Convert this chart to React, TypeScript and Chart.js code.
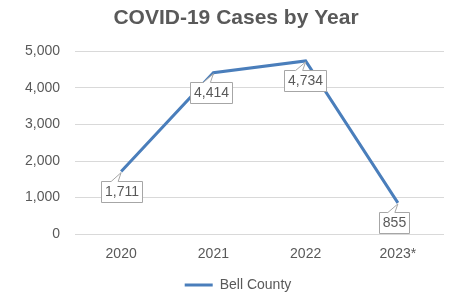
import React, { useEffect, useRef } from "react";
import { Chart, registerables } from "chart.js";

Chart.register(...registerables);

const categories = ["2020", "2021", "2022", "2023*"];
const seriesName = "Bell County";
const values = [1711, 4414, 4734, 855];
const titleText = "COVID-19 Cases by Year";

const FONT = "'Liberation Sans', 'DejaVu Sans', sans-serif";
const GRAY = "#595959";
const BLUE = "#4a7ebb";

const calloutPlugin = {
  id: "callouts",
  afterDatasetsDraw(chart: any) {
    const ctx = chart.ctx;
    const meta = chart.getDatasetMeta(0);
    const ds = chart.data.datasets[0];
    const dxs = [0, -2, -1, -4];
    ctx.save();
    ctx.font = `14px ${FONT}`;
    meta.data.forEach((pt: any, i: number) => {
      const v = ds.data[i] as number;
      const txt = v.toLocaleString("en-US");
      const tw = ctx.measureText(txt).width;
      const w = Math.round(tw + 7);
      const h = 21;
      const cx = pt.x + dxs[i];
      const top = Math.round(pt.y + 9);
      const left = Math.round(cx - w / 2);
      ctx.fillStyle = "#ffffff";
      ctx.strokeStyle = "#a6a6a6";
      ctx.lineWidth = 1;
      const b1 = Math.max(left + 2, pt.x - 10);
      const b2 = Math.min(left + w - 2, pt.x - 3);
      ctx.beginPath();
      ctx.moveTo(left + 0.5, top + 0.5);
      ctx.lineTo(b1, top + 0.5);
      ctx.lineTo(pt.x, pt.y + 1);
      ctx.lineTo(b2, top + 0.5);
      ctx.lineTo(left + w + 0.5, top + 0.5);
      ctx.lineTo(left + w + 0.5, top + h + 0.5);
      ctx.lineTo(left + 0.5, top + h + 0.5);
      ctx.closePath();
      ctx.fill();
      ctx.stroke();
      ctx.fillStyle = GRAY;
      ctx.textAlign = "center";
      ctx.textBaseline = "middle";
      ctx.fillText(txt, left + w / 2 + 0.5, top + h / 2 + 1);
    });
    ctx.restore();
  },
};

const boxShiftPlugin = {
  id: "boxShift",
  afterLayout(chart: any) {
    const lg = chart.legend;
    if (lg) {
      lg.left += 11;
      lg.right += 11;
    }
    const tt = chart.titleBlock;
    if (tt) {
      tt.left += 9;
      tt.right += 9;
    }
  },
};

export default function App() {
  const ref = useRef<HTMLCanvasElement>(null);
  useEffect(() => {
    if (!ref.current) return;
    const chart = new Chart(ref.current, {
      type: "line",
      data: {
        labels: categories,
        datasets: [
          {
            label: seriesName,
            data: values,
            borderColor: BLUE,
            backgroundColor: BLUE,
            borderWidth: 3,
            pointRadius: 0,
            tension: 0,
          },
        ],
      },
      options: {
        responsive: false,
        animation: false,
        maintainAspectRatio: false,
        layout: { padding: { left: 10, right: 10, top: 0, bottom: -8 } },
        plugins: {
          title: {
            display: true,
            text: titleText,
            color: GRAY,
            font: { family: FONT, size: 21, weight: "bold" },
            padding: { top: 6, bottom: 20 },
          },
          legend: {
            position: "bottom",
            labels: {
              color: GRAY,
              font: { family: FONT, size: 14 },
              usePointStyle: true,
              pointStyle: "line",
              pointStyleWidth: 28,
              boxHeight: 3,
              padding: 3,
            },
          },
          tooltip: { enabled: false },
        },
        scales: {
          x: {
            offset: true,
            grid: { display: false },
            border: { display: false },
            ticks: { color: GRAY, font: { family: FONT, size: 14 }, padding: 4 },
            afterFit: (scale: any) => {
              scale.height += 8;
            },
          },
          y: {
            min: 0,
            max: 5000,
            ticks: {
              stepSize: 1000,
              color: GRAY,
              font: { family: FONT, size: 14 },
              padding: 15,
              callback: (v: any) => Number(v).toLocaleString("en-US"),
            },
            grid: { color: "#d9d9d9", drawTicks: false },
            border: { display: false },
          },
        },
      },
      plugins: [calloutPlugin, boxShiftPlugin],
    });
    return () => chart.destroy();
  }, []);
  return (
    <div style={{ position: "fixed", left: 0, top: 0, width: 454, height: 294, background: "#fff" }}>
      <canvas ref={ref} width={454} height={294} />
    </div>
  );
}
